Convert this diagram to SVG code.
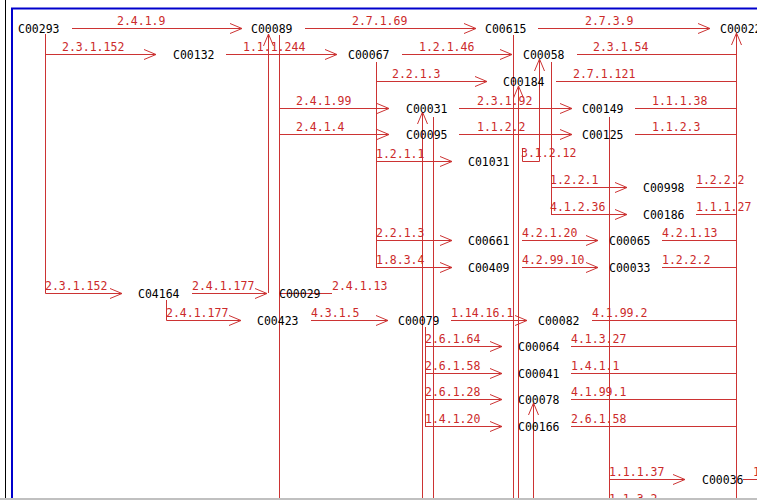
<svg xmlns="http://www.w3.org/2000/svg" width="757" height="500" viewBox="0 0 757 500">
<style>
.n{font-family:"DejaVu Sans Mono","Liberation Mono",monospace;font-size:11.5px;fill:#000}
.l{font-family:"DejaVu Sans Mono","Liberation Mono",monospace;font-size:11.5px;fill:#cc2a2a}
.e{fill:none;stroke:#cc3333;stroke-width:1}
.ea{fill:none;stroke:#cc3333;stroke-width:1;marker-end:url(#a)}
</style>
<defs>
<marker id="a" markerUnits="userSpaceOnUse" markerWidth="14" markerHeight="12" viewBox="-13 -6 14 12" refX="0" refY="0" orient="auto"><path d="M-12,-5 L0,0 L-12,5" fill="none" stroke="#cc3333" stroke-width="1"/></marker>
</defs>
<rect x="0" y="0" width="757" height="500" fill="#fff"/>
<g id="frame">
<line x1="5.5" y1="0" x2="5.5" y2="498" stroke="#000" stroke-width="1"/>
<line x1="11" y1="8.5" x2="757" y2="8.5" stroke="#0000cc" stroke-width="2"/>
<line x1="12" y1="8" x2="12" y2="498" stroke="#0000cc" stroke-width="2"/>
</g>
<g id="connectors">
<path class="ea" d="M72,28.5H242"/>
<path class="ea" d="M305,28.5H476"/>
<path class="ea" d="M538,28.5H710"/>
<path class="ea" d="M45.5,34V54.5H156"/>
<path class="ea" d="M45.5,54V293.5H122"/>
<path class="ea" d="M226,54.5H337"/>
<path class="ea" d="M402,54.5H512"/>
<path class="e" d="M577,54.5H736"/>
<path class="ea" d="M736.5,498V33"/>
<path class="e" d="M376.5,62V267"/>
<path class="ea" d="M376,81.5H487"/>
<path class="e" d="M556,81.5H736"/>
<path class="e" d="M279.5,35V498"/>
<path class="ea" d="M279,108.5H389"/>
<path class="ea" d="M459,108.5H572"/>
<path class="e" d="M635,108.5H736"/>
<path class="ea" d="M279,134.5H389"/>
<path class="ea" d="M459,134.5H572"/>
<path class="e" d="M635,134.5H736"/>
<path class="ea" d="M376,161.5H452"/>
<path class="ea" d="M522.5,148V161.5H539.5V59"/>
<path class="e" d="M551.5,62V214"/>
<path class="ea" d="M551,187.5H627"/>
<path class="ea" d="M551,214.5H627"/>
<path class="e" d="M696,187.5H736"/>
<path class="e" d="M696,214.5H736"/>
<path class="ea" d="M376,240.5H452"/>
<path class="ea" d="M522,240.5H598"/>
<path class="e" d="M662,240.5H736"/>
<path class="ea" d="M376,267.5H452"/>
<path class="ea" d="M522,267.5H598"/>
<path class="e" d="M662,267.5H736"/>
<path class="ea" d="M192,293.5H267"/>
<path class="ea" d="M268.5,293V34"/>
<path class="e" d="M279,293.5H332"/>
<path class="ea" d="M166.5,300V320.5H241"/>
<path class="ea" d="M311,320.5H388"/>
<path class="ea" d="M451,320.5H527"/>
<path class="e" d="M592,320.5H736"/>
<path class="e" d="M425.5,327V426"/>
<path class="ea" d="M425,346.5H502"/>
<path class="ea" d="M425,373.5H502"/>
<path class="ea" d="M425,399.5H502"/>
<path class="ea" d="M425,426.5H502"/>
<path class="e" d="M571,346.5H736"/>
<path class="e" d="M571,373.5H736"/>
<path class="e" d="M571,399.5H736"/>
<path class="e" d="M571,426.5H736"/>
<path class="ea" d="M533.5,498V403"/>
<path class="ea" d="M422.5,498V112"/>
<path class="e" d="M433.5,117V498"/>
<path class="e" d="M513.5,35V498"/>
<path class="ea" d="M518.5,498V86"/>
<path class="e" d="M609.5,117V498"/>
<path class="ea" d="M609,479.5H685"/>
<path class="e" d="M743,479.5H757"/>
</g>
<g id="labels">
<text class="l" x="117" y="25">2.4.1.9</text>
<text class="l" x="352" y="25">2.7.1.69</text>
<text class="l" x="585" y="25">2.7.3.9</text>
<text class="l" x="62" y="51">2.3.1.152</text>
<text class="l" x="243" y="51">1.1.1.244</text>
<text class="l" x="419" y="51">1.2.1.46</text>
<text class="l" x="593" y="51">2.3.1.54</text>
<text class="l" x="392" y="78">2.2.1.3</text>
<text class="l" x="573" y="78">2.7.1.121</text>
<text class="l" x="296" y="105">2.4.1.99</text>
<text class="l" x="477" y="105">2.3.1.92</text>
<text class="l" x="652" y="105">1.1.1.38</text>
<text class="l" x="296" y="131">2.4.1.4</text>
<text class="l" x="477" y="131">1.1.2.2</text>
<text class="l" x="652" y="131">1.1.2.3</text>
<text class="l" x="376" y="158">1.2.1.1</text>
<text class="l" x="521" y="157">3.1.2.12</text>
<text class="l" x="550" y="184">1.2.2.1</text>
<text class="l" x="696" y="184">1.2.2.2</text>
<text class="l" x="550" y="211">4.1.2.36</text>
<text class="l" x="696" y="211">1.1.1.27</text>
<text class="l" x="376" y="237">2.2.1.3</text>
<text class="l" x="522" y="237">4.2.1.20</text>
<text class="l" x="662" y="237">4.2.1.13</text>
<text class="l" x="376" y="264">1.8.3.4</text>
<text class="l" x="522" y="264">4.2.99.10</text>
<text class="l" x="662" y="264">1.2.2.2</text>
<text class="l" x="45" y="290">2.3.1.152</text>
<text class="l" x="192" y="290">2.4.1.177</text>
<text class="l" x="332" y="290">2.4.1.13</text>
<text class="l" x="166" y="317">2.4.1.177</text>
<text class="l" x="311" y="317">4.3.1.5</text>
<text class="l" x="451" y="317">1.14.16.1</text>
<text class="l" x="592" y="317">4.1.99.2</text>
<text class="l" x="425" y="343">2.6.1.64</text>
<text class="l" x="571" y="343">4.1.3.27</text>
<text class="l" x="425" y="370">2.6.1.58</text>
<text class="l" x="571" y="370">1.4.1.1</text>
<text class="l" x="425" y="396">2.6.1.28</text>
<text class="l" x="571" y="396">4.1.99.1</text>
<text class="l" x="425" y="423">1.4.1.20</text>
<text class="l" x="571" y="423">2.6.1.58</text>
<text class="l" x="609" y="476">1.1.1.37</text>
<text class="l" x="753" y="476">1</text>
<text class="l" x="609" y="503">1.1.3.2</text>
</g>
<g id="C00293"><text class="n" x="18" y="33">C00293</text></g>
<g id="C00089"><text class="n" x="251" y="33">C00089</text></g>
<g id="C00615"><text class="n" x="485" y="33">C00615</text></g>
<g id="C00022"><text class="n" x="720" y="33">C00022</text></g>
<g id="C00132"><text class="n" x="173" y="59">C00132</text></g>
<g id="C00067"><text class="n" x="348" y="59">C00067</text></g>
<g id="C00058"><text class="n" x="523" y="59">C00058</text></g>
<g id="C00184"><text class="n" x="503" y="86">C00184</text></g>
<g id="C00031"><text class="n" x="406" y="113">C00031</text></g>
<g id="C00149"><text class="n" x="582" y="113">C00149</text></g>
<g id="C00095"><text class="n" x="406" y="139">C00095</text></g>
<g id="C00125"><text class="n" x="582" y="139">C00125</text></g>
<g id="C01031"><text class="n" x="468" y="166">C01031</text></g>
<g id="C00998"><text class="n" x="643" y="192">C00998</text></g>
<g id="C00186"><text class="n" x="643" y="219">C00186</text></g>
<g id="C00661"><text class="n" x="468" y="245">C00661</text></g>
<g id="C00065"><text class="n" x="609" y="245">C00065</text></g>
<g id="C00409"><text class="n" x="468" y="272">C00409</text></g>
<g id="C00033"><text class="n" x="609" y="272">C00033</text></g>
<g id="C04164"><text class="n" x="138" y="298">C04164</text></g>
<g id="C00029"><text class="n" x="279" y="298">C00029</text></g>
<g id="C00423"><text class="n" x="257" y="325">C00423</text></g>
<g id="C00079"><text class="n" x="398" y="325">C00079</text></g>
<g id="C00082"><text class="n" x="538" y="325">C00082</text></g>
<g id="C00064"><text class="n" x="518" y="351">C00064</text></g>
<g id="C00041"><text class="n" x="518" y="378">C00041</text></g>
<g id="C00078"><text class="n" x="518" y="404">C00078</text></g>
<g id="C00166"><text class="n" x="518" y="431">C00166</text></g>
<g id="C00036"><text class="n" x="702" y="484">C00036</text></g>
<rect x="0" y="498" width="757" height="2" fill="#c0c0c0"/>
</svg>
